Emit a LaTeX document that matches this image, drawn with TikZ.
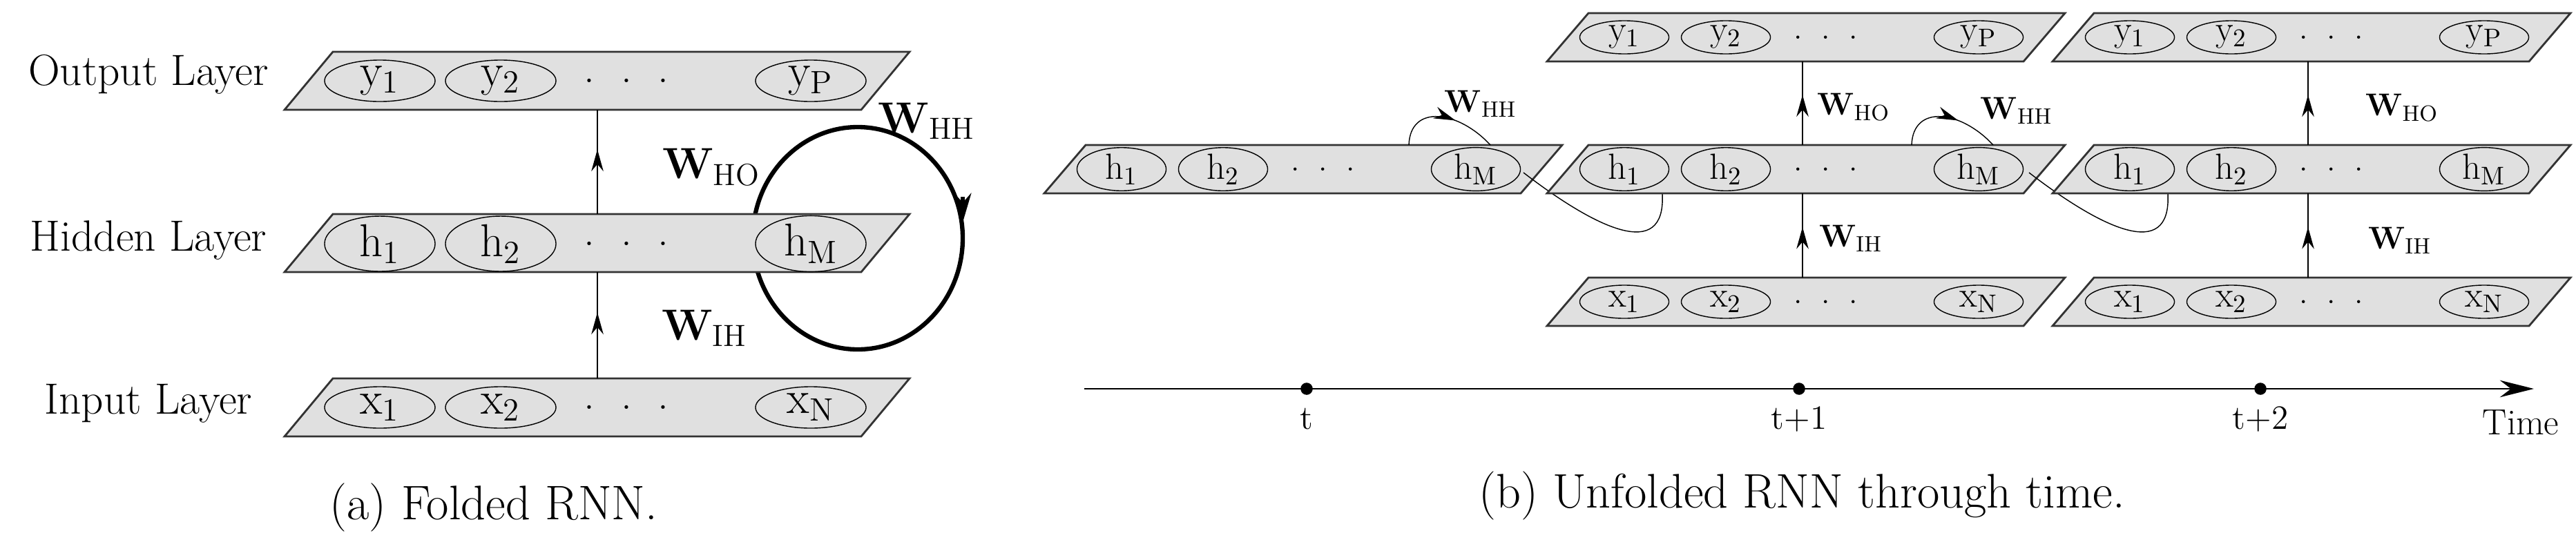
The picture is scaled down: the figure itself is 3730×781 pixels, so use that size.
\documentclass[tikz,border=0pt]{standalone}
\usetikzlibrary{arrows.meta,decorations.markings,shapes.geometric}
\tikzset{
  slab/.style={draw=black!80,fill=black!12,line width=0.8pt},
  unitL/.style={draw,ellipse,minimum width=1.6cm,minimum height=0.6cm,inner sep=0pt,font=\fontsize{19}{19}\selectfont},
  unitR/.style={draw,ellipse,minimum width=1.29cm,minimum height=0.48cm,inner sep=0pt,font=\fontsize{15}{15}\selectfont},
  layer/.style={font=\fontsize{18}{18}\selectfont},
  wL/.style={font=\fontsize{18}{18}\selectfont},
  wR/.style={font=\fontsize{13}{13}\selectfont},
  midarrow/.style={postaction={decorate},decoration={markings,
    mark=at position #1 with {\arrow{Stealth[length=9pt,width=5pt]}}}},
  caption/.style={font=\fontsize{20}{20}\selectfont}
}
\newcommand{\wt}[1]{\textbf{W}\textsubscript{#1}}
\begin{document}
\begin{tikzpicture}[x=0.01cm,y=-0.01cm]
  \useasboundingbox (0,0) rectangle (3730,781);
  % (a) folded
  \draw[line width=1.8pt] (1242,345) ellipse [x radius=152, y radius=161];
  \draw[line width=1.8pt,-{Stealth[length=12pt,width=7pt]}] (1394,285) -- (1394,322);
  \foreach \n/\y/\a in {out/75/y,hid/310/h,inp/548/x} {
    \draw[slab] (412,\y+84) -- (482,\y) -- (1317,\y) -- (1247,\y+84) -- cycle;
  }
  \foreach \n/\y/\a/\z in {out/117/y/P,hid/353/h/M,inp/590/x/N} {
    \node[unitL] (\n1) at (550,\y) {\a\textsubscript{1}};
    \node[unitL] (\n2) at (725,\y) {\a\textsubscript{2}};
    \node[layer] (\n d) at (907,\y) {.\hspace{0.6em}.\hspace{0.6em}.};
    \node[unitL] (\n3) at (1174,\y) {\a\textsubscript{\z}};
  }
  \coordinate (inpT) at (865,548); \coordinate (hidB) at (865,394);
  \coordinate (hidT) at (865,310); \coordinate (outB) at (865,159);
  \draw[midarrow=0.62] (inpT) -- (hidB);
  \draw[midarrow=0.62] (hidT) -- (outB);
  \node[layer] (lout) at (215,108) {Output Layer};
  \node[layer] (lhid) at (215,348) {Hidden Layer};
  \node[layer] (linp) at (215,584) {Input Layer};
  \node[wL] (wHO) at (1030,242) {\wt{HO}};
  \node[wL] (wIH) at (1020,475) {\wt{IH}};
  \node[wL] (wHH) at (1342,175) {\wt{HH}};
  \node[caption] (capa) at (715,735) {(a) Folded RNN.};
  % (b) unfolded
  \foreach \B/\k in {1512/0,2240/1,2972/2} {
    \ifnum\k>0
      \draw (\B-34,250) .. controls (\B+70,330) and (\B+172,380) .. (\B+167,281);
    \fi
    \draw[slab] (\B,280) -- (\B+60,210) -- (\B+750,210) -- (\B+690,280) -- cycle;
    \node[unitR] (h\k1) at (\B+112,245) {h\textsubscript{1}};
    \node[unitR] (h\k2) at (\B+259,245) {h\textsubscript{2}};
    \node[wR] (h\k d) at (\B+404,245) {.\hspace{0.6em}.\hspace{0.6em}.};
    \node[unitR] (h\k3) at (\B+625,245) {h\textsubscript{M}};
    \ifnum\k<2
      \draw[midarrow=0.6] (\B+528,210) .. controls (\B+530,150) and (\B+600,160) .. (\B+646,210);
    \fi
  }
  \foreach \B/\k in {2240/1,2972/2} {
    \draw[slab] (\B,89) -- (\B+60,19) -- (\B+750,19) -- (\B+690,89) -- cycle;
    \draw[slab] (\B,472) -- (\B+60,402) -- (\B+750,402) -- (\B+690,472) -- cycle;
    \node[unitR] (y\k1) at (\B+112,54) {y\textsubscript{1}};
    \node[unitR] (y\k2) at (\B+259,54) {y\textsubscript{2}};
    \node[wR] (y\k d) at (\B+404,54) {.\hspace{0.6em}.\hspace{0.6em}.};
    \node[unitR] (y\k3) at (\B+625,54) {y\textsubscript{P}};
    \node[unitR] (x\k1) at (\B+112,437) {x\textsubscript{1}};
    \node[unitR] (x\k2) at (\B+259,437) {x\textsubscript{2}};
    \node[wR] (x\k d) at (\B+404,437) {.\hspace{0.6em}.\hspace{0.6em}.};
    \node[unitR] (x\k3) at (\B+625,437) {x\textsubscript{N}};
    \coordinate (xT\k) at (\B+370,402); \coordinate (hB\k) at (\B+370,280);
    \coordinate (hT\k) at (\B+370,210); \coordinate (yB\k) at (\B+370,89);
    \draw[midarrow=0.6] (xT\k) -- (hB\k);
    \draw[midarrow=0.6] (hT\k) -- (yB\k);
  }
  \node[wR] (wHH0) at (2144,150) {\wt{HH}};
  \node[wR] (wHH1) at (2920,160) {\wt{HH}};
  \node[wR] (wHO1) at (2684,155) {\wt{HO}};
  \node[wR] (wIH1) at (2680,345) {\wt{IH}};
  \node[wR] (wHO2) at (3478,156) {\wt{HO}};
  \node[wR] (wIH2) at (3475,348) {\wt{IH}};
  % time axis
  \coordinate (ax0) at (1570,563); \coordinate (ax1) at (3669,563);
  \draw[line width=0.8pt,-{Stealth[length=14pt,width=7pt]}] (ax0) -- (ax1);
  \foreach \tx/\tl [count=\i] in {1892/t,2605/t+1,3273/t+2} {
    \fill (\tx,563) circle (2.5pt);
    \node[font=\fontsize{14}{14}\selectfont] (tl\i) at (\tx,607) {\tl};
  }
  \node[font=\fontsize{15}{15}\selectfont] (time) at (3650,612) {Time};
  \node[caption] (capb) at (2609,718) {(b) Unfolded RNN through time.};
\end{tikzpicture}
\end{document}
